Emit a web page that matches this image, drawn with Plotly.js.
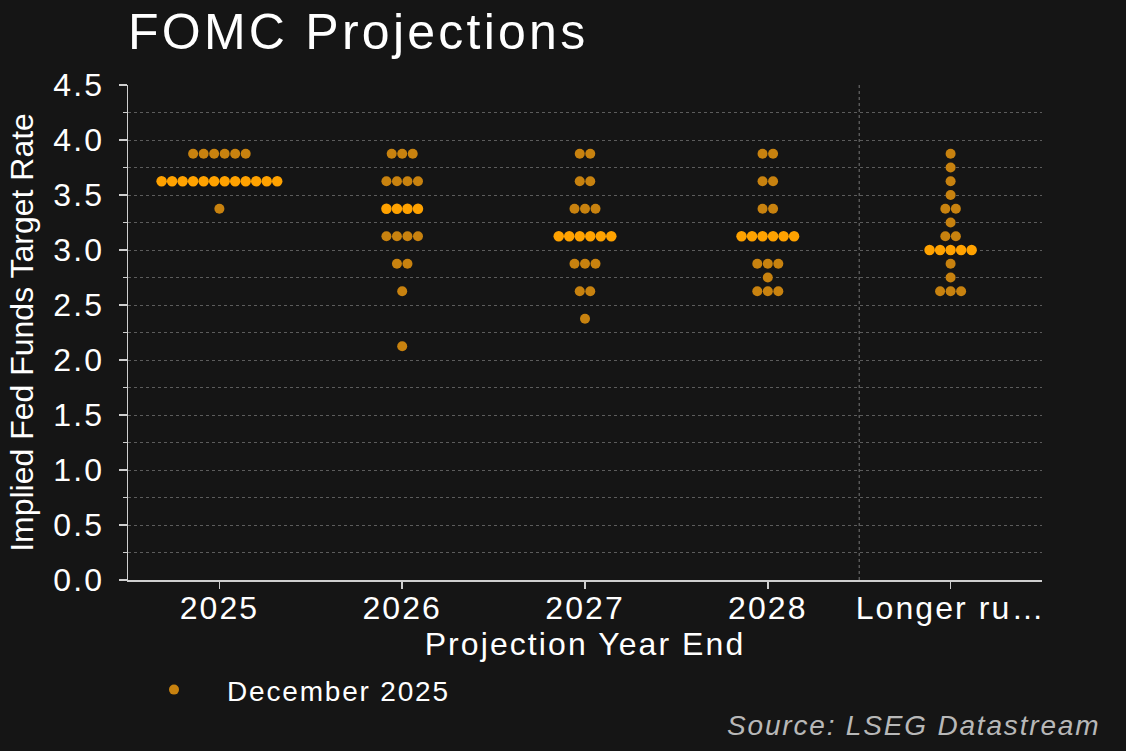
<!DOCTYPE html>
<html>
<head>
<meta charset="utf-8">
<script src="https://cdn.plot.ly/plotly-3.0.1.min.js"></script>
<style>
  html, body { margin:0; padding:0; background:#151515; }
  #chart { width:1126px; height:751px; }
  svg text { letter-spacing: 0.065em; }
  svg text.ytitle { letter-spacing: 0; }
</style>
</head>
<body>
<div id="chart"></div>
<script>
// ---- data ----
const categories = ['2025', '2026', '2027', '2028', 'Longer run'];
const tickLabels = ['2025', '2026', '2027', '2028', 'Longer ru\u2026'];

const levels2025 = [3.875, 3.625, 3.375];
const counts2025 = [6, 12, 1];
const levels2026 = [3.875, 3.625, 3.375, 3.125, 2.875, 2.625, 2.125];
const counts2026 = [3, 4, 4, 4, 2, 1, 1];
const levels2027 = [3.875, 3.625, 3.375, 3.125, 2.875, 2.625, 2.375];
const counts2027 = [2, 2, 3, 6, 3, 2, 1];
const levels2028 = [3.875, 3.625, 3.375, 3.125, 2.875, 2.75, 2.625];
const counts2028 = [2, 2, 2, 6, 3, 1, 3];
const levelsLonger = [3.875, 3.75, 3.625, 3.5, 3.375, 3.25, 3.125, 3.0, 2.875, 2.75, 2.625];
const countsLonger = [1, 1, 1, 1, 2, 1, 2, 5, 1, 1, 3];
const medians = [3.625, 3.375, 3.125, 3.125, 3.0];
const seriesName = 'December 2025';

// ---- build swarm ----
const allLevels = [levels2025, levels2026, levels2027, levels2028, levelsLonger];
const allCounts = [counts2025, counts2026, counts2027, counts2028, countsLonger];
const step = 0.0575;
const other = {x: [], y: []};
const med = {x: [], y: []};
allLevels.forEach((lv, ci) => {
  lv.forEach((rate, k) => {
    const n = allCounts[ci][k];
    for (let i = 0; i < n; i++) {
      const xv = ci + (i - (n - 1) / 2) * step;
      const tgt = (rate === medians[ci]) ? med : other;
      tgt.x.push(xv); tgt.y.push(rate);
    }
  });
});

const darkDot = '#C8820F';
const brightDot = '#FFA200';
const font = 'Liberation Sans, Arial, sans-serif';

const traces = [
  {x: other.x, y: other.y, type: 'scatter', mode: 'markers', name: seriesName,
   marker: {color: darkDot, size: 10}, showlegend: true},
  {x: med.x, y: med.y, type: 'scatter', mode: 'markers', name: seriesName,
   marker: {color: brightDot, size: 10.5}, showlegend: false}
];

const gridC = '#5c5c5c';
const axisC = '#cfcfcf';

const layout = {
  width: 1126, height: 751,
  paper_bgcolor: '#151515', plot_bgcolor: '#151515',
  font: {family: font, color: '#ffffff', size: 32},
  margin: {l: 128, r: 84, t: 85, b: 171},
  title: {text: 'FOMC Projections', font: {size: 50, color: '#ffffff', family: font},
          x: 128 / 1126, xanchor: 'left', xref: 'container',
          y: 0.958, yanchor: 'middle', yref: 'container'},
  xaxis: {
    range: [-0.5, 4.5], tickmode: 'array', tickvals: [0, 1, 2, 3, 4], ticktext: tickLabels,
    showgrid: false, zeroline: false, showline: true, linecolor: axisC, linewidth: 1.5,
    ticks: 'outside', ticklen: 7, tickcolor: axisC, tickwidth: 1.5,
    tickfont: {size: 32, color: '#ffffff'}, ticklabelstandoff: -8,
    title: {text: 'Projection Year End', font: {size: 32, color: '#ffffff'}, standoff: 0}
  },
  yaxis: {
    range: [0, 4.5], dtick: 0.5, tick0: 0, tickformat: '.1f',
    showgrid: true, gridcolor: gridC, griddash: 'dot', gridwidth: 1,
    zeroline: false, showline: true, linecolor: axisC, linewidth: 1.5,
    ticks: 'outside', ticklen: 8, tickcolor: axisC, tickwidth: 1.5,
    tickfont: {size: 32, color: '#ffffff'}, ticklabelstandoff: 8,
    minor: {dtick: 0.25, tick0: 0, ticks: 'outside', ticklen: 4, tickcolor: axisC,
            showgrid: true, gridcolor: gridC, griddash: 'dot', gridwidth: 1},
    title: {text: 'Implied Fed Funds Target Rate', font: {size: 32, color: '#ffffff'}, standoff: 10}
  },
  shapes: [{type: 'line', xref: 'x', yref: 'y', x0: 3.5, x1: 3.5, y0: 0, y1: 4.5,
            line: {color: '#777777', width: 1, dash: 'dot'}, layer: 'below'}],
  legend: {x: (121 - 128) / 914, xanchor: 'left', y: -0.222, yanchor: 'middle', orientation: 'h',
           font: {size: 28, color: '#ffffff'}, bgcolor: 'rgba(0,0,0,0)', itemwidth: 96},
  annotations: [{text: '<i>Source: LSEG Datastream</i>', xref: 'paper', yref: 'paper',
                 x: (1102 - 128) / 914, xanchor: 'right', y: (580 - 725) / 495, yanchor: 'middle',
                 showarrow: false, font: {size: 28, color: '#b8b8b8', family: font}}]
};

Plotly.newPlot('chart', traces, layout, {displayModeBar: false, staticPlot: true});
</script>
</body>
</html>
